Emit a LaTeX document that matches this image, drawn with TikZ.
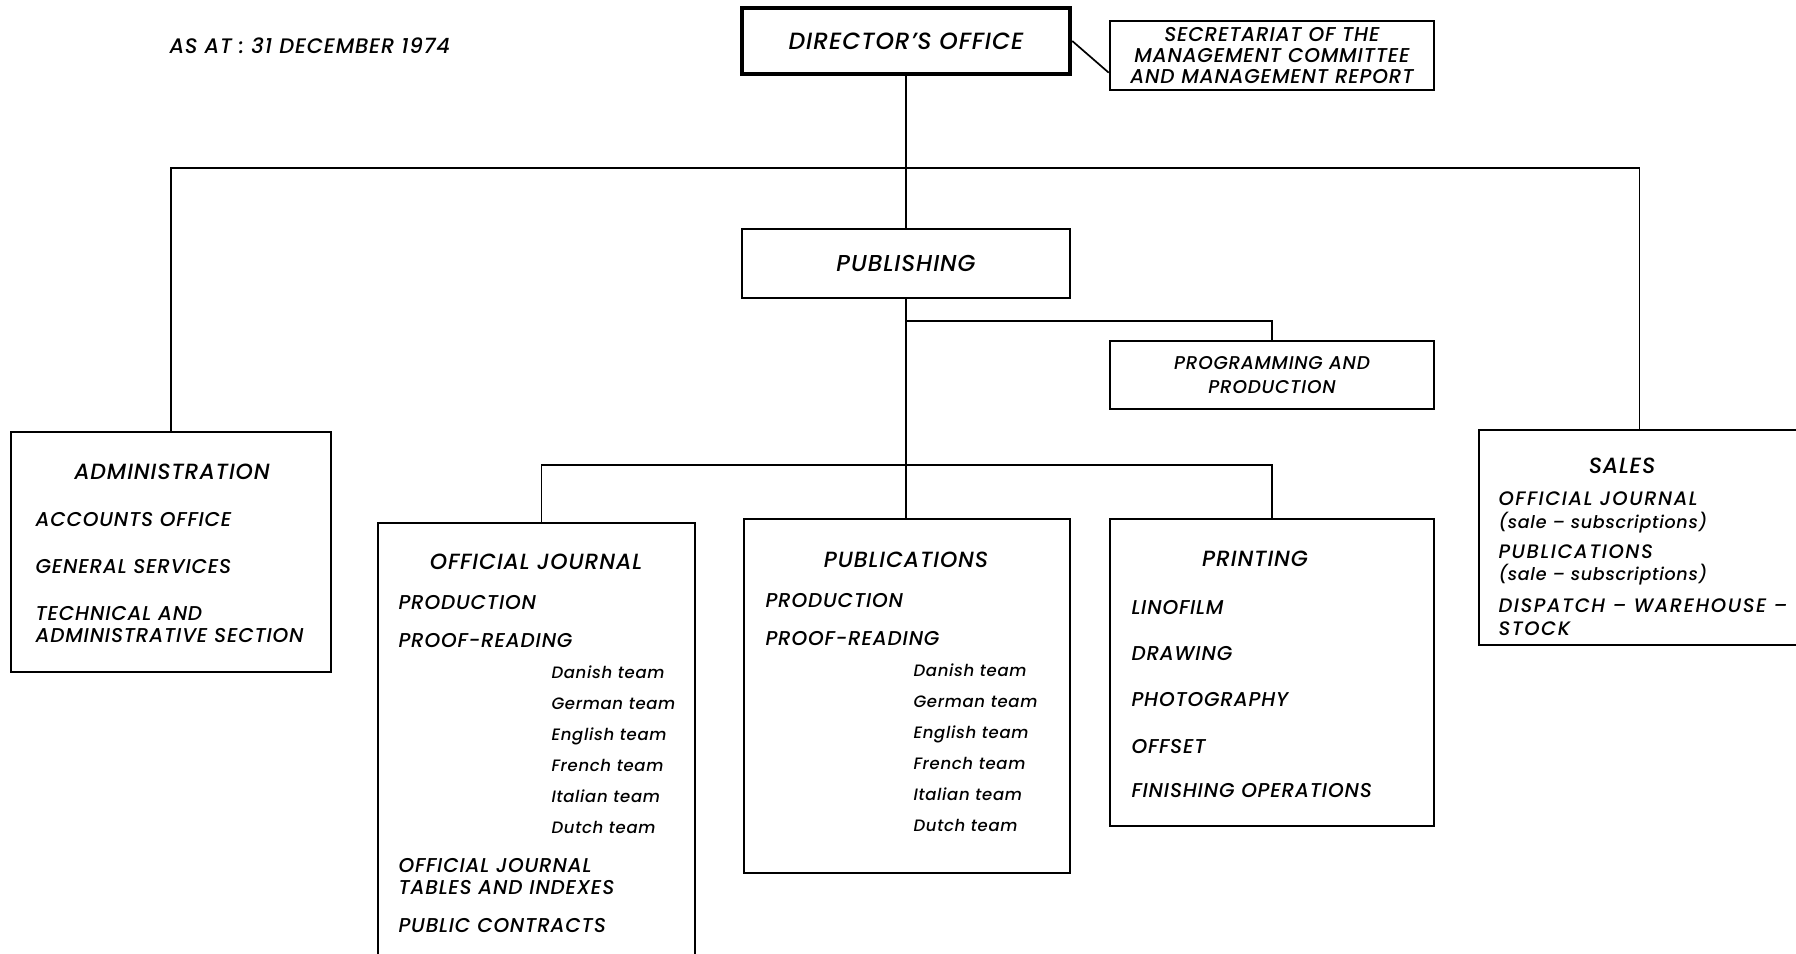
\documentclass[tikz,border=0pt]{standalone}
\usepackage{fontspec}
\setmainfont{Poppins}[ItalicFont={Poppins Medium Italic}, LetterSpace=4]
\newfontfamily\widefont{Poppins}[ItalicFont={Poppins Medium Italic}, LetterSpace=8]
\begin{document}
\begin{tikzpicture}[x=1pt, y=-1pt,
	unit/.style={draw, line width=2.6pt, inner sep=0pt, align=center, font=\itshape\fontsize{20}{21}\selectfont},
	title/.style={anchor=mid, yshift=-5pt, font=\itshape\fontsize{22}{22}\selectfont},
	item/.style={anchor=mid west, yshift=-5pt, font=\itshape\fontsize{20}{20}\selectfont},
	team/.style={anchor=mid west, yshift=-5pt, font=\itshape\fontsize{16.5}{17}\selectfont},
	link/.style={line width=1.7pt}]
	\useasboundingbox (0,0) rectangle (1796,953);
	\clip (0,0) rectangle (1796,953);

	\node[item, font=\itshape\fontsize{21}{21}\selectfont] (date) at (166,46) {AS AT : 31 DECEMBER 1974};

	% top of the chart
	\node[unit, line width=4.5pt, minimum width=328pt, minimum height=66pt, font=\itshape\fontsize{23.5}{24}\selectfont] (dir) at (906,41) {DIRECTOR'S OFFICE};
	\node[unit, minimum width=324pt, minimum height=69pt] (sec) at (1272,55.5) {SECRETARIAT OF THE\\MANAGEMENT COMMITTEE\\AND MANAGEMENT REPORT};
	\node[unit, minimum width=328pt, minimum height=69pt, font=\itshape\fontsize{23}{23}\selectfont] (pub) at (906,263.5) {PUBLISHING};
	\node[unit, minimum width=324pt, minimum height=68pt, font=\itshape\fontsize{18.5}{24}\selectfont] (prog) at (1272,375) {PROGRAMMING AND\\PRODUCTION};

	% departments
	\node[unit, minimum width=320pt, minimum height=240pt] (adm) at (171,552) {};
	\node[unit, minimum width=317pt, minimum height=477pt] (oj) at (536.5,761.5) {};
	\node[unit, minimum width=326pt, minimum height=354pt] (pubs) at (907,696) {};
	\node[unit, minimum width=324pt, minimum height=307pt] (prt) at (1272,672.5) {};
	\node[unit, minimum width=321pt, minimum height=215pt] (sal) at (1639.5,537.5) {};

	\node[title] (admt) at (172,472) {ADMINISTRATION};
	\foreach \y/\t [count=\i] in {519/ACCOUNTS OFFICE, 566/GENERAL SERVICES, 613/TECHNICAL AND, 635/ADMINISTRATIVE SECTION}
		\node[item] (adm\i) at (32,\y) {\t};

	\node[title] (ojt) at (536,562) {OFFICIAL JOURNAL};
	\foreach \y/\t [count=\i] in {602/PRODUCTION, 640/PROOF-READING, 865/OFFICIAL JOURNAL, 887/TABLES AND INDEXES, 925/PUBLIC CONTRACTS}
		\node[item] (oj\i) at (395,\y) {\t};
	\foreach \t [count=\i] in {Danish, German, English, French, Italian, Dutch}
		\node[team] (ojteam\i) at (548,640+31*\i) {\t\ team};

	\node[title] (pubst) at (906,560) {PUBLICATIONS};
	\foreach \y/\t [count=\i] in {600/PRODUCTION, 638/PROOF-READING}
		\node[item] (pubs\i) at (762,\y) {\t};
	\foreach \t [count=\i] in {Danish, German, English, French, Italian, Dutch}
		\node[team] (pubsteam\i) at (910,638+31*\i) {\t\ team};

	\node[title] (prtt) at (1255,559) {PRINTING};
	\foreach \y/\t [count=\i] in {607/LINOFILM, 653/DRAWING, 699/PHOTOGRAPHY, 746/OFFSET, 790/FINISHING OPERATIONS}
		\node[item] (prt\i) at (1128,\y) {\t};

	% sales is lettered wider
	\node[title] (salt) at (1622,466) {SALES};
	\foreach \y/\t [count=\i] in {498/OFFICIAL JOURNAL, 551/PUBLICATIONS, 605/DISPATCH – WAREHOUSE –, 628/STOCK}
		\node[item, font=\widefont\itshape\fontsize{19.5}{20}\selectfont] (sal\i) at (1495,\y) {\t};
	\foreach \y [count=\i] in {521, 573}
		\node[item, font=\itshape\fontsize{17.5}{18}\selectfont] (salsub\i) at (1495,\y) {(sale – subscriptions)};

	% connectors
	\coordinate (bus) at (0,168);
	\coordinate (fork) at (0,321);
	\coordinate (tee) at (0,465);
	\draw[link] (dir.east) -- (sec.186);
	\draw[link] (dir.south) -- (pub.north);
	\draw[link] (adm.north) |- (sal.north |- bus) -- (sal.north);
	\draw[link] (pub.south) -- (pub.south |- pubs.north);
	\draw[link] (pub.south |- fork) -| (prog.north);
	\draw[link] ([xshift=5pt]oj.north) |- (prt.north |- tee) -- (prt.north);
\end{tikzpicture}
\end{document}
